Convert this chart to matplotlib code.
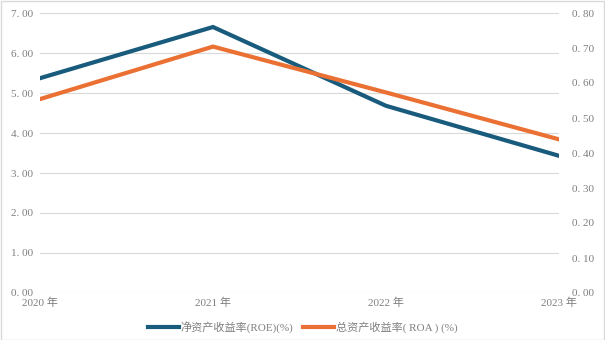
import matplotlib

matplotlib.use("Agg")
import matplotlib.pyplot as plt

plt.rcParams["font.family"] = ["Liberation Serif", "Noto Sans CJK SC", "DejaVu Sans"]

years = ["2020 年", "2021 年", "2022 年", "2023 年"]
roe = [5.37, 6.65, 4.68, 3.43]
roa = [0.554, 0.704, 0.573, 0.439]
roe_label = "净资产收益率(ROE)(%)"
roa_label = "总资产收益率( ROA ) (%)"

left_ticks = [0, 1, 2, 3, 4, 5, 6, 7]
right_ticks = [0, 0.1, 0.2, 0.3, 0.4, 0.5, 0.6, 0.7, 0.8]

BLUE = "#195b7d"
ORANGE = "#ea7133"
TEXT = "#7f7f7f"
GRID = "#d9d9d9"

fig = plt.figure(figsize=(6.05, 3.4), dpi=100)
fig.patches.append(plt.Rectangle((0.001, 0.001), 0.997, 0.997, transform=fig.transFigure,
                                 fill=False, edgecolor="#d9d9d9", linewidth=1.0))
ax = fig.add_axes([40 / 605, 47 / 340, 519 / 605, 280 / 340])
ax2 = ax.twinx()

x = list(range(len(years)))
l1, = ax.plot(x, roe, color=BLUE, linewidth=3.0, solid_joinstyle="miter", label=roe_label)
l2, = ax2.plot(x, roa, color=ORANGE, linewidth=3.0, solid_joinstyle="miter", label=roa_label)

ax.set_xlim(0, len(years) - 1)
ax.set_ylim(0, 7)
ax2.set_ylim(0, 0.8)
ax.set_yticks(left_ticks)
ax.set_yticklabels([f"{v:.2f}".replace(".", ". ") for v in left_ticks])
ax2.set_yticks(right_ticks)
ax2.set_yticklabels([f"{v:.2f}".replace(".", ". ") for v in right_ticks])
ax.set_xticks(x)
ax.set_xticklabels(years)

ax.grid(axis="y", color=GRID, linewidth=0.8)
ax.set_axisbelow(True)
for a in (ax, ax2):
    for s in a.spines.values():
        s.set_visible(False)
    a.tick_params(length=0, labelsize=8, labelcolor=TEXT)
ax.tick_params(axis="y", pad=5)
ax2.tick_params(axis="y", pad=9)
ax.tick_params(axis="x", pad=3)

fig.legend(handles=[l1, l2], loc="center", bbox_to_anchor=(0.5, 13 / 340), ncol=2,
           frameon=False, fontsize=8, labelcolor=TEXT, handlelength=2.8,
           handletextpad=0.2, columnspacing=0.8)

fig.savefig("out.png", dpi=100)
